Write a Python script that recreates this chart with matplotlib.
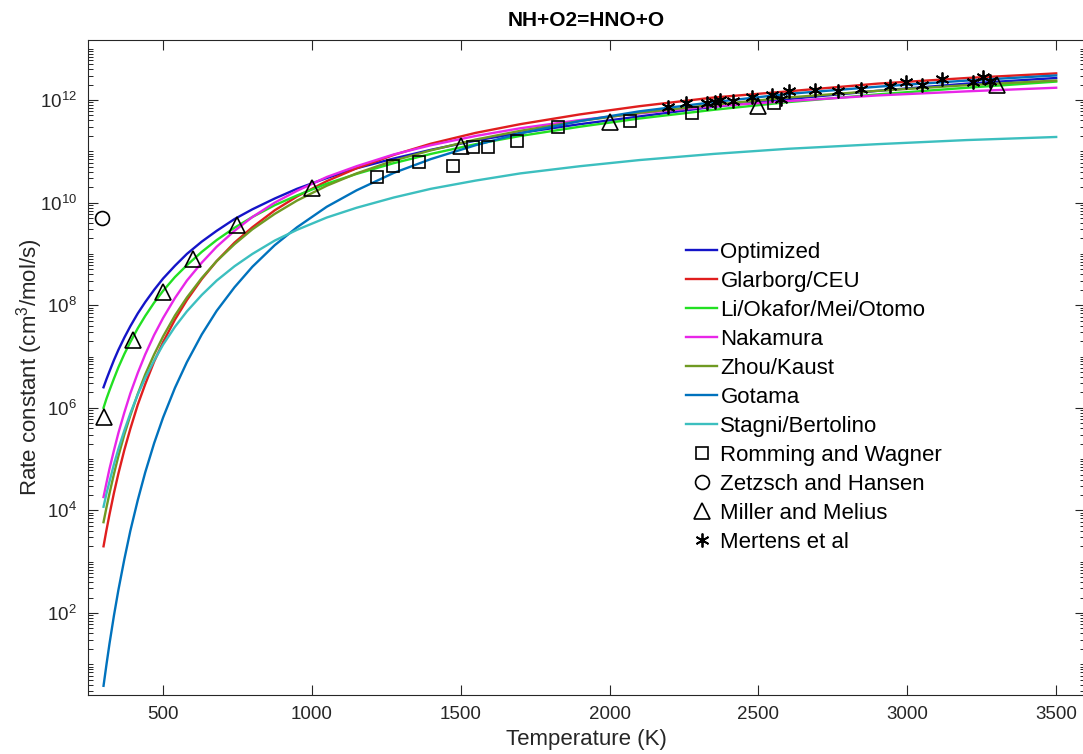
import numpy as np
import matplotlib
matplotlib.use("Agg")
from matplotlib import pyplot as plt
from matplotlib.ticker import LogLocator, FixedLocator, NullFormatter, LogFormatterSciNotation

# Fonts close to the MATLAB Helvetica look
plt.rcParams['font.family'] = ['Liberation Sans', 'DejaVu Sans']
plt.rcParams['mathtext.fontset'] = 'custom'
plt.rcParams['mathtext.rm'] = 'Liberation Sans'
plt.rcParams['mathtext.it'] = 'Liberation Sans:italic'
plt.rcParams['mathtext.bf'] = 'Liberation Sans:bold'

T_curve = [300, 310, 320, 335, 350, 370, 390, 415, 440, 470, 500, 540, 580, 630, 680, 740,
           800, 875, 950, 1050, 1150, 1275, 1400, 1550, 1700, 1900, 2100, 2350, 2600, 2900, 3200, 3500]

# log10 of rate constant (cm3/mol/s) for each mechanism
optimized_log = [6.40, 6.56, 6.71, 6.93, 7.13, 7.37, 7.59, 7.84, 8.06, 8.30, 8.52, 8.77, 9.00, 9.24, 9.45, 9.68,
                 9.87, 10.08, 10.27, 10.48, 10.67, 10.86, 11.03, 11.21, 11.36, 11.53, 11.68, 11.87, 12.02, 12.18, 12.32, 12.43]
glarborg_log = [3.30, 3.62, 3.92, 4.34, 4.72, 5.18, 5.59, 6.06, 6.46, 6.90, 7.28, 7.72, 8.10, 8.51, 8.86, 9.22,
                9.52, 9.85, 10.12, 10.42, 10.67, 10.93, 11.15, 11.36, 11.53, 11.72, 11.88, 12.05, 12.17, 12.32, 12.43, 12.52]
li_log = [6.00, 6.18, 6.34, 6.57, 6.79, 7.05, 7.28, 7.55, 7.79, 8.05, 8.28, 8.55, 8.78, 9.04, 9.27, 9.51,
          9.72, 9.95, 10.14, 10.37, 10.56, 10.77, 10.95, 11.14, 11.30, 11.48, 11.64, 11.81, 11.96, 12.11, 12.24, 12.36]
nakamura_log = [4.26, 4.54, 4.81, 5.17, 5.51, 5.91, 6.28, 6.68, 7.04, 7.42, 7.75, 8.14, 8.48, 8.83, 9.14, 9.45,
                9.72, 10.00, 10.23, 10.50, 10.71, 10.94, 11.12, 11.30, 11.45, 11.61, 11.74, 11.88, 11.98, 12.09, 12.17, 12.24]
zhou_log = [3.77, 4.06, 4.33, 4.71, 5.06, 5.48, 5.85, 6.27, 6.65, 7.04, 7.39, 7.80, 8.15, 8.53, 8.86, 9.19,
            9.48, 9.78, 10.04, 10.33, 10.57, 10.82, 11.02, 11.23, 11.40, 11.59, 11.75, 11.91, 12.05, 12.18, 12.29, 12.38]
gotama_log = [0.58, 1.00, 1.40, 1.95, 2.45, 3.05, 3.60, 4.20, 4.74, 5.31, 5.81, 6.39, 6.89, 7.43, 7.89, 8.35,
              8.75, 9.17, 9.52, 9.92, 10.24, 10.58, 10.85, 11.12, 11.35, 11.59, 11.78, 11.96, 12.12, 12.26, 12.38, 12.48]
stagni_log = [4.07, 4.33, 4.56, 4.90, 5.20, 5.56, 5.89, 6.26, 6.58, 6.92, 7.23, 7.58, 7.88, 8.20, 8.48, 8.76,
              9.00, 9.26, 9.47, 9.71, 9.90, 10.10, 10.27, 10.43, 10.57, 10.71, 10.83, 10.95, 11.05, 11.14, 11.22, 11.28]

curve_names = ['Optimized', 'Glarborg/CEU', 'Li/Okafor/Mei/Otomo', 'Nakamura',
               'Zhou/Kaust', 'Gotama', 'Stagni/Bertolino']
curve_colors = ['#1414C8', '#E01E1E', '#22E022', '#E826E8', '#6F9A22', '#0072BD', '#3CBFBF']

# Experimental / theoretical points
romming_T = [1218, 1274, 1360, 1473, 1542, 1591, 1688, 1828, 2069, 2276, 2553]
romming_k = [3.1e10, 5.1e10, 6.2e10, 5.1e10, 1.23e11, 1.2e11, 1.62e11, 2.95e11, 3.9e11, 5.5e11, 8.9e11]

zetzsch_T = [296]
zetzsch_k = [5.0e9]

miller_T = [300, 400, 500, 600, 750, 1000, 1500, 2000, 2500, 3300]
miller_k = [6.6e5, 2.1e7, 1.8e8, 8.0e8, 3.6e9, 1.9e10, 1.26e11, 3.8e11, 7.6e11, 1.95e12]

mertens_T = [2197, 2257, 2326, 2354, 2371, 2416, 2478, 2545, 2574, 2604, 2690, 2768,
             2845, 2942, 2996, 3049, 3116, 3222, 3253, 3278]
mertens_k = [7.4e11, 8.7e11, 8.7e11, 9.3e11, 1.0e12, 9.5e11, 1.15e12, 1.26e12, 1.07e12, 1.51e12,
             1.55e12, 1.51e12, 1.62e12, 1.86e12, 2.24e12, 1.95e12, 2.63e12, 2.29e12, 2.82e12, 2.34e12]

y_ticks = [1e2, 1e4, 1e6, 1e8, 1e10, 1e12]
x_ticks = [500, 1000, 1500, 2000, 2500, 3000, 3500]

all_logs = [optimized_log, glarborg_log, li_log, nakamura_log, zhou_log, gotama_log, stagni_log]

fig = plt.figure(figsize=(10.83, 7.54), dpi=100)
ax = fig.add_axes([0.0813, 0.0782, 0.9206, 0.8687])

# model curves
for vals, name, col in zip(all_logs, curve_names, curve_colors):
    ax.plot(T_curve, 10 ** np.array(vals), color=col, lw=1.7, label=name)

# data points
ax.plot(romming_T, romming_k, ls='none', marker='s', ms=8, mfc='none', mec='black',
        mew=1.2, label='Romming and Wagner')
ax.plot(zetzsch_T, zetzsch_k, ls='none', marker='o', ms=10, mfc='none', mec='black',
        mew=1.2, label='Zetzsch and Hansen')
ax.plot(miller_T, miller_k, ls='none', marker='^', ms=11, mfc='none', mec='black',
        mew=1.2, label='Miller and Melius')
ax.plot(mertens_T, mertens_k, ls='none', marker=(6, 2, 0), ms=10, color='black',
        mew=1.3, label='Mertens et al')

ax.set_yscale('log')
ax.set_xlim(248, 3597)
ax.set_ylim(10 ** 0.40, 10 ** 13.17)
ax.set_xticks(x_ticks)
ax.yaxis.set_major_locator(FixedLocator(y_ticks))
ax.yaxis.set_major_formatter(LogFormatterSciNotation())
ax.yaxis.set_minor_locator(LogLocator(base=10, subs=np.arange(1, 10), numticks=100))
ax.yaxis.set_minor_formatter(NullFormatter())

# MATLAB style box with inward ticks
for sp in ax.spines.values():
    sp.set_color('#262626')
    sp.set_linewidth(0.8)
ax.tick_params(which='both', direction='in', top=True, right=True, colors='#262626',
               labelsize=13.5, labelcolor='#262626')
ax.tick_params(which='major', length=7, width=0.8, pad=8)
ax.tick_params(which='minor', length=3.5, width=0.7)

ax.set_xlabel('Temperature (K)', fontsize=16, color='#262626', labelpad=4)
ax.set_ylabel('Rate constant (cm$^{3}$/mol/s)', fontsize=16, color='#262626', labelpad=-4)
ax.set_title('NH+O2=HNO+O', fontsize=15, fontweight='bold', pad=10)

leg = ax.legend(loc='upper left', bbox_to_anchor=(0.6334, 0.679), bbox_transform=fig.transFigure,
                frameon=False, fontsize=16, labelspacing=0.36, handlelength=1.4,
                handletextpad=0.15, borderpad=0, borderaxespad=0, numpoints=1)

plt.savefig('out.png', dpi=100)
